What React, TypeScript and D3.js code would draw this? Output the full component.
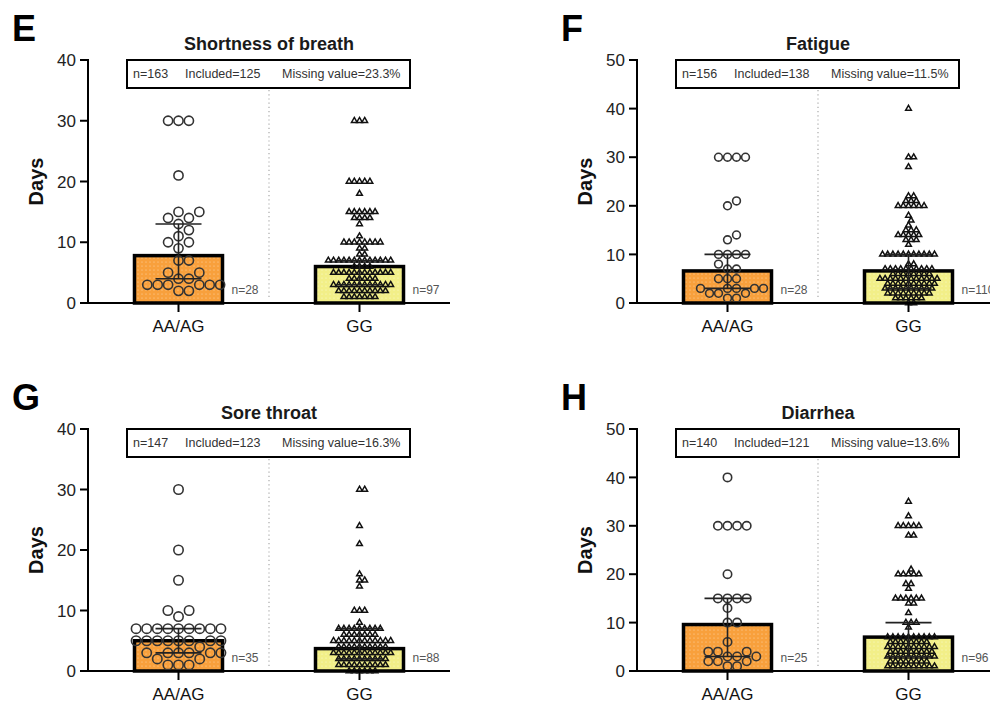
import React from "react";
import * as d3 from "d3";

// panel meta
const letters = ["E", "F", "G", "H"];
const titles = ["Shortness of breath", "Fatigue", "Sore throat", "Diarrhea"];
const groups = ["AA/AG", "GG"];
const totals = [163, 156, 147, 140];
const included = [125, 138, 123, 121];
const missing = ["23.3%", "11.5%", "16.3%", "13.6%"];
const yMax = [40, 50, 40, 50];

// bar height (median) and error bar (interquartile range) per group
const medians = [[7.8, 6], [6.6, 6.6], [5, 3.7], [9.6, 7]];
const lowers = [[4, 3], [3, 3], [3, 2], [3, 3]];
const uppers = [[13, 7], [10, 10], [7, 7], [15, 10]];

// individual days, one entry per patient
const breathAA = [30, 30, 30, 21, 15, 15, 14, 14, 13, 12, 11, 10, 10, 9, 7, 7, 5, 5, 4, 4, 3, 3, 3, 3, 3, 3, 2, 2];
const breathGG = [
  30, 30, 30, 20, 20, 20, 20, 20, 18, 15, 15, 15, 15, 15, 15, 14, 14, 14, 14, 13, 11,
  10, 10, 10, 10, 10, 10, 10, 10, 9, 9, 8, 8,
  7, 7, 7, 7, 7, 7, 7, 7, 7, 7, 7, 7, 7,
  6, 6, 6, 6, 5, 5, 5, 5, 5, 5, 5, 5, 5, 5, 5, 5,
  4, 4, 4, 4, 4, 4, 3, 3, 3, 3, 3, 3, 3, 3, 3, 3, 3, 3,
  2, 2, 2, 2, 2, 2, 2, 2, 2, 2, 1, 1, 1, 1, 1, 1, 1,
];
const fatigueAA = [30, 30, 30, 30, 21, 20, 14, 13, 10, 10, 10, 10, 8, 7, 7, 5, 5, 5, 3, 3, 3, 3, 3, 2, 2, 2, 1, 1];
const fatigueGG = [
  40, 30, 30, 28, 22, 22, 21, 21, 21, 20, 20, 20, 20, 20, 20, 18, 17, 16, 15, 15, 15,
  14, 14, 14, 14, 14, 13, 13, 13, 12,
  10, 10, 10, 10, 10, 10, 10, 10, 10, 10, 10, 8, 8,
  7, 7, 7, 7, 7, 7, 7, 7, 7, 7,
  6, 6, 6, 6, 6, 6, 6, 6, 5, 5, 5, 5, 5, 5, 5, 5, 5, 5, 5, 5,
  4, 4, 4, 4, 4, 4, 4, 4, 4, 4, 3, 3, 3, 3, 3, 3, 3, 3, 3, 3,
  2, 2, 2, 2, 2, 2, 2, 2, 2, 1, 1, 1, 1, 1, 1, 0, 0,
];
const throatAA = [30, 20, 15, 10, 10, 9, 7, 7, 7, 7, 7, 7, 7, 7, 7, 5, 5, 5, 5, 5, 5, 5, 5, 4, 3, 3, 3, 3, 3, 3, 2, 2, 1, 1, 1];
const throatGG = [
  30, 30, 24, 21, 16, 15, 15, 14, 10, 10, 10, 8,
  7, 7, 7, 7, 7, 7, 7, 7, 7, 6, 6, 6, 6, 6, 6, 6,
  5, 5, 5, 5, 5, 5, 5, 5, 5, 5, 5, 5,
  4, 4, 4, 4, 4, 4, 4, 4, 4, 4, 3, 3, 3, 3, 3, 3, 3, 3, 3, 3, 3, 3,
  2, 2, 2, 2, 2, 2, 2, 2, 2, 2, 1, 1, 1, 1, 1, 1, 1, 1, 1, 1, 0, 0, 0, 0, 0, 0,
];
const diarrheaAA = [40, 30, 30, 30, 30, 20, 15, 15, 15, 15, 13, 10, 10, 6, 4, 4, 4, 3, 3, 3, 2, 2, 2, 1, 1];
const diarrheaGG = [
  35, 32, 30, 30, 30, 30, 30, 28, 28, 21, 20, 20, 20, 20, 20, 18, 18, 17,
  15, 15, 15, 15, 15, 15, 14, 14, 12, 10, 10, 10, 9,
  7, 7, 7, 7, 7, 7, 7, 7, 7, 7, 6, 6, 6, 6, 6, 6, 6, 6,
  5, 5, 5, 5, 5, 5, 5, 5, 5, 5, 4, 4, 4, 4, 4, 4, 4, 4, 4,
  3, 3, 3, 3, 3, 3, 3, 3, 3, 3, 2, 2, 2, 2, 2, 2, 2, 2,
  1, 1, 1, 1, 1, 1, 1, 1, 1, 1,
];
const days = [
  [breathAA, breathGG],
  [fatigueAA, fatigueGG],
  [throatAA, throatGG],
  [diarrheaAA, diarrheaGG],
];

// layout of the 2x2 grid
const axisXs = [88, 637, 88, 637];
const axisTops = [60, 60, 429, 429];
const axisBottoms = [303, 303, 671, 671];
const circleR = [4.6, 3.9, 4.7, 4.2];
const AXIS_LEN = 362;
const BAR_W = 88;

const ORANGE = "#f8a03c";
const YELLOW = "#f2ef88";
const FONT = "Arial, 'Liberation Sans', Helvetica, sans-serif";

// simple beeswarm: push each point sideways until it no longer overlaps
function swarm(values: number[], y: (v: number) => number, cx: number, d: number) {
  const placed: { x: number; y: number }[] = [];
  const sorted = [...values].sort((a, b) => a - b);
  const step = d / 4;
  for (const v of sorted) {
    const py = y(v);
    for (let k = 0; k < 400; k++) {
      const dx = k === 0 ? 0 : (k % 2 ? 1 : -1) * Math.ceil(k / 2) * step;
      const ok = placed.every((p) => (p.x - cx - dx) ** 2 + (p.y - py) ** 2 >= d * d - 0.01);
      if (ok) {
        placed.push({ x: cx + dx, y: py });
        break;
      }
    }
  }
  return placed;
}

const triangle = d3.symbol().type(d3.symbolTriangle).size(14)();

function Panel({ i }: { i: number }) {
  const ax = axisXs[i];
  const top = axisTops[i];
  const y0 = axisBottoms[i];
  const y = d3.scaleLinear().domain([0, yMax[i]]).range([y0, top]);
  const x = d3.scalePoint<string>().domain(groups).range([ax, ax + AXIS_LEN]).padding(0.5);
  const ticks = d3.range(0, yMax[i] + 1, 10);
  const mid = ax + AXIS_LEN / 2;
  const boxX = ax + 39;
  const boxW = 283;
  const boxH = 28;

  return (
    <g>
      <text x={ax - 76} y={top - 19} fontSize={36} fontWeight="bold" fill="#000">
        {letters[i]}
      </text>
      <text x={mid} y={top - 10} fontSize={18} fontWeight="bold" textAnchor="middle" fill="#1a1a1a">
        {titles[i]}
      </text>

      {/* info box */}
      <rect x={boxX} y={top} width={boxW} height={boxH} fill="#fff" stroke="#000" strokeWidth={2} />
      <g fontSize={12.5} fill="#333">
        <text x={boxX + 6} y={top + 18}>n={totals[i]}</text>
        <text x={boxX + 58} y={top + 18}>Included={included[i]}</text>
        <text x={boxX + 155} y={top + 18}>Missing value={missing[i]}</text>
      </g>

      {/* dotted divider between groups */}
      <line x1={mid} x2={mid} y1={top + boxH + 2} y2={y0 - 3} stroke="#aaa" strokeWidth={1.2} strokeDasharray="1.2,3" />

      {groups.map((g, j) => {
        const cx = x(g) as number;
        const pts = swarm(days[i][j], y, cx, j === 0 ? circleR[i] * 2 + 1.2 : 5.2);
        return (
          <g key={g}>
            <rect
              x={cx - BAR_W / 2}
              y={y(medians[i][j])}
              width={BAR_W}
              height={y0 - y(medians[i][j])}
              fill={j === 0 ? "url(#dotsOrange)" : "url(#dotsYellow)"}
              stroke="#000"
              strokeWidth={3.5}
            />
            {j === 0
              ? pts.map((p, k) => (
                  <circle key={k} cx={p.x} cy={p.y} r={circleR[i]} fill="none" stroke="#333" strokeWidth={1.6} />
                ))
              : pts.map((p, k) => (
                  <path key={k} d={triangle} transform={`translate(${p.x},${p.y})`} fill="none" stroke="#111" strokeWidth={1.5} />
                ))}
            <g stroke="#222" strokeWidth={1.6}>
              <line x1={cx} x2={cx} y1={y(lowers[i][j])} y2={y(uppers[i][j])} />
              <line x1={cx - 23} x2={cx + 23} y1={y(lowers[i][j])} y2={y(lowers[i][j])} />
              <line x1={cx - 23} x2={cx + 23} y1={y(uppers[i][j])} y2={y(uppers[i][j])} />
            </g>
            <text x={cx + BAR_W / 2 + 9} y={y0 - 9} fontSize={12} fill="#555">
              n={days[i][j].length}
            </text>
            <line x1={cx} x2={cx} y1={y0} y2={y0 + 9} stroke="#000" strokeWidth={2} />
            <text x={cx} y={y0 + 29} fontSize={17} textAnchor="middle" fill="#111">
              {g}
            </text>
          </g>
        );
      })}

      {/* axes */}
      <line x1={ax} x2={ax} y1={top - 1} y2={y0 + 1} stroke="#000" strokeWidth={2} />
      <line x1={ax} x2={ax + AXIS_LEN} y1={y0} y2={y0} stroke="#000" strokeWidth={2} />
      {ticks.map((t) => (
        <g key={t}>
          <line x1={ax - 8} x2={ax} y1={y(t)} y2={y(t)} stroke="#000" strokeWidth={2} />
          <text x={ax - 12} y={y(t)} dy="0.36em" fontSize={17} textAnchor="end" fill="#222">
            {t}
          </text>
        </g>
      ))}
      <text
        transform={`translate(${ax - 45},${(top + y0) / 2}) rotate(-90)`}
        fontSize={20}
        fontWeight="bold"
        textAnchor="middle"
        fill="#111"
      >
        Days
      </text>
    </g>
  );
}

export default function App() {
  return (
    <svg
      width={990}
      height={704}
      style={{ position: "absolute", left: 0, top: 0, background: "#fff" }}
      fontFamily={FONT}
    >
      <defs>
        <pattern id="dotsOrange" width={4} height={4} patternUnits="userSpaceOnUse">
          <rect width={4} height={4} fill={ORANGE} />
          <circle cx={2} cy={2} r={0.6} fill="#fff" opacity={0.55} />
        </pattern>
        <pattern id="dotsYellow" width={4} height={4} patternUnits="userSpaceOnUse">
          <rect width={4} height={4} fill={YELLOW} />
          <circle cx={2} cy={2} r={0.6} fill="#fff" opacity={0.6} />
        </pattern>
      </defs>
      <rect width={990} height={704} fill="#fff" />
      {letters.map((_, i) => (
        <Panel key={i} i={i} />
      ))}
    </svg>
  );
}
